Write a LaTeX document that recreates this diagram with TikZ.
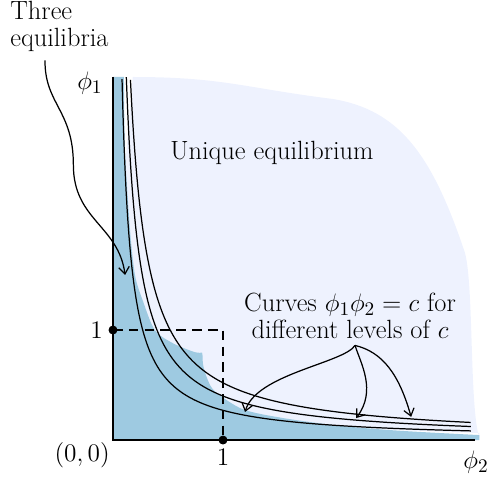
\documentclass[tikz,border=0pt]{standalone}
\usepackage{tikz}
\usetikzlibrary{arrows.meta}

\definecolor{threeblue}{RGB}{158,202,225}
\definecolor{uniqueblue}{RGB}{238,242,254}

\tikzset{
  axis/.style={line width=1.1pt},
  level/.style={line width=0.7pt},
  guide/.style={line width=1.1pt, dash pattern=on 5.5pt off 3.5pt},
  pointer/.style={line width=0.7pt, -{Straight Barb[length=4pt,width=6pt]}},
  label/.style={font=\fontsize{15}{15.5}\selectfont}
}

\begin{document}
\begin{tikzpicture}[scale=2.2]
    \useasboundingbox (-1.027,-0.345) rectangle (3.418,4.0);
    % regions
    \fill[uniqueblue] (0.18,3.3) .. controls (1.0,3.3) and (1.2,3.2) .. (2.0,3.1)
        .. controls (2.6,3.0) and (2.9,2.6) .. (3.2,1.7)
        .. controls (3.28,1.4) and (3.24,0.3) .. (3.33,0.02)
        -- (3.33,0.065)
        -- plot[smooth] coordinates {(3.3,0.065) (2.6,0.09) (2.0,0.125) (1.6,0.16) (1.0,0.25) (0.3,0.3)}
        -- (0.06,0.3) -- (0.06,2.0)
        -- plot[smooth] coordinates {(0.06,2.0) (0.12,2.6) (0.18,3.3)}
        -- cycle;
    \fill[threeblue] (0,0) -- (0,3.3)
        -- plot[smooth] coordinates {(0.1,3.3) (0.109,2.64) (0.155,1.91) (0.2,1.5) (0.27,1.27) (0.38,1.0) (0.545,0.88) (0.74,0.8) (0.81,0.795)}
        -- plot[smooth] coordinates {(0.815,0.76) (0.82,0.68) (0.86,0.55) (0.93,0.44) (1.18,0.28) (1.545,0.2) (2.06,0.13) (2.6,0.085) (3.33,0.045)}
        -- (3.33,0) -- cycle;
    % curves phi1 phi2 = c
    \foreach \c in {0.27,0.40,0.52} {
        \pgfmathsetmacro\tstart{ln(\c/3.3)}
        \draw[level] plot[variable=\t, domain=\tstart:1.18, samples=70, smooth] ({exp(\t)},{\c/exp(\t)});
    }
    % axes
    \coordinate (origin) at (0,0);
    \coordinate (ytop) at (0,3.3);
    \coordinate (xend) at (3.29,0);
    \draw[axis] (ytop) -- (origin) -- (xend);
    \coordinate (yone) at (0,1);
    \coordinate (corner) at (1,1);
    \coordinate (xone) at (1,0);
    \draw[guide] (yone) -- (corner) -- (xone);
    \filldraw (yone) circle (1.05pt);
    \filldraw (xone) circle (1.05pt);
    % labels
    \node[label] (phione) at (-0.21,3.24) {$\phi_1$};
    \node[label] (phitwo) at (3.3,-0.2) {$\phi_2$};
    \node[label] (zero) at (-0.28,-0.14) {$(0,0)$};
    \node[label] (onex) at (1.0,-0.16) {$1$};
    \node[label] (oney) at (-0.15,1.0) {$1$};
    \node[label] (unique) at (1.445,2.61) {Unique equilibrium};
    \node[label, anchor=north west, inner sep=0pt, align=left] (three) at (-0.936,3.99) {Three\\equilibria};
    \node[label, align=center] (curves) at (2.155,1.13) {Curves $\phi_1\phi_2=c$ for\\different levels of $c$};
    % pointers
    \coordinate (threestart) at (-0.618,3.45);
    \coordinate (threetip) at (0.11,1.5);
    \coordinate (fork) at (2.2,0.86);
    \coordinate (tipa) at (1.2,0.255);
    \coordinate (tipb) at (2.21,0.2);
    \coordinate (tipc) at (2.71,0.21);
    \draw[pointer] (threestart) .. controls (-0.62,3.05) and (-0.36,3.0) .. (-0.36,2.5)
        .. controls (-0.36,2.0) and (0.05,1.95) .. (threetip);
    \draw[pointer] (fork) .. controls (2.1,0.7) and (1.3,0.6) .. (tipa);
    \draw[pointer] (fork) .. controls (2.25,0.7) and (2.4,0.45) .. (tipb);
    \draw[pointer] (fork) .. controls (2.45,0.8) and (2.6,0.6) .. (tipc);
\end{tikzpicture}
\end{document}
